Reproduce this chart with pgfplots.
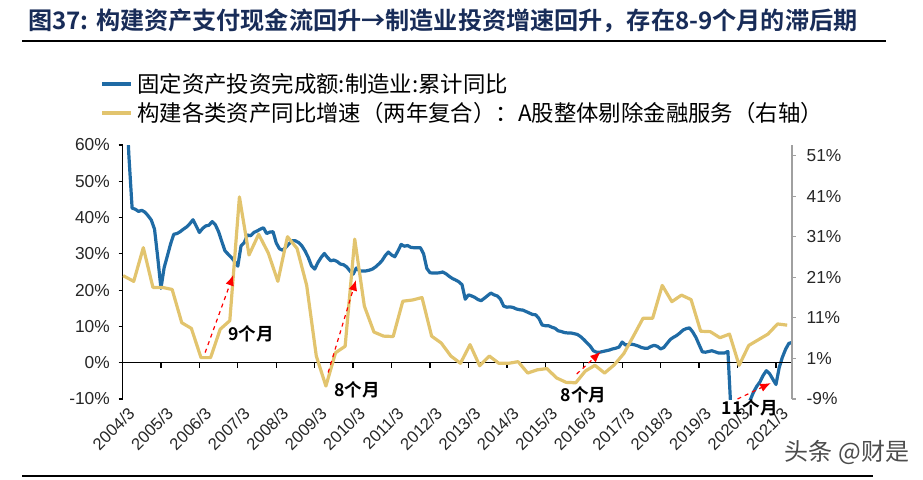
\documentclass[border=0pt]{standalone}
\usepackage{fontspec}
\setmainfont{Liberation Sans}
\newfontfamily\cjk{Noto Sans CJK SC}
\newfontfamily\cjkb{Noto Sans CJK SC Bold}
\usepackage{pgfplots}
\usepackage{pgfplotstable}
\pgfplotsset{compat=1.18}
\usetikzlibrary{arrows.meta}

\definecolor{fblue}{RGB}{31,107,165}
\definecolor{fgold}{RGB}{226,196,110}
\definecolor{tnavy}{RGB}{24,44,88}
\definecolor{raxis}{RGB}{160,160,160}

% x = months since 2004/3
\pgfplotstableread{
m v
1 75
2 57
3 42.6
4 42.3
5 41.7
6 42.0
7 41.5
8 40.5
9 39.3
10 36.8
11 29.0
12 20.5
13 26.2
14 29.4
15 32.7
16 35.4
17 35.6
18 36.1
19 36.8
20 37.4
21 38.3
22 39.4
23 37.7
24 35.9
25 37.0
26 37.7
27 37.9
28 38.9
29 38.0
30 36.1
31 33.4
32 30.8
33 29.9
34 29.0
35 27.9
36 26.6
37 32.2
38 33.1
39 35.2
40 35.0
41 35.9
42 36.3
43 36.8
44 37.2
45 35.6
46 36.0
47 36.1
48 33.0
49 31.4
50 31.0
51 31.8
52 32.8
53 33.6
54 33.6
55 33.1
56 32.2
57 30.8
58 29.0
59 26.7
60 25.8
61 27.6
62 29.0
63 30.1
64 29.0
65 28.1
66 28.3
67 27.9
68 27.2
69 27.0
70 26.4
71 25.3
72 24.4
73 26.1
74 25.3
75 25.3
76 25.3
77 25.5
78 25.8
79 26.4
80 27.2
81 28.1
82 29.5
83 30.5
84 29.7
85 29.2
86 30.8
87 32.6
88 32.1
89 32.3
90 31.8
91 31.7
92 31.7
93 31.7
94 30.0
95 26.0
96 24.8
97 24.7
98 24.7
99 24.8
100 25.0
101 24.5
102 23.8
103 23.2
104 22.8
105 22.3
106 21.5
107 17.5
108 18.7
109 18.4
110 18.0
111 17.4
112 17.1
113 17.8
114 18.5
115 19.2
116 18.7
117 18.4
118 17.5
119 15.6
120 15.3
121 15.4
122 15.2
123 14.8
124 14.6
125 14.5
126 14.1
127 13.7
128 13.3
129 13.2
130 12.2
131 10.4
132 10.2
133 10.2
134 9.8
135 9.5
136 8.8
137 8.6
138 8.3
139 8.2
140 8.2
141 8.0
142 7.8
143 7.2
144 6.4
145 5.5
146 4.6
147 3.3
148 2.9
149 2.9
150 3.1
151 3.3
152 3.5
153 3.8
154 4.0
155 4.3
156 5.7
157 4.9
158 5.0
159 5.1
160 4.9
161 4.6
162 4.2
163 4.0
164 4.0
165 4.5
166 4.8
167 4.5
168 3.8
169 4.2
170 5.3
171 6.4
172 7.0
173 7.5
174 8.2
175 9.0
176 9.4
177 9.6
178 8.5
179 7.0
180 5.0
181 3.0
182 2.9
183 3.1
184 3.3
185 3.0
186 2.7
187 2.7
188 2.7
189 3.1
191 -31.5
192 -25.2
193 -18.8
194 -14.8
195 -11.7
196 -10.2
197 -8.1
198 -6.5
199 -5.3
200 -3.5
201 -2.2
202 -3.0
204 -6.0
205 -1.4
206 1.5
207 3.7
208 5.3
209 5.6
}\mfgfai

% quarterly, right axis
\pgfplotstableread{
m v
0.2 21.4
3.5 20.0
6.5 28.3
9.5 18.5
12.5 18.5
15.5 18.0
18.5 9.8
21.5 8.4
24.5 1.2
27.5 1.2
30.5 8.2
33.5 10.3
36.5 40.8
39.5 26.5
42.5 31.6
45.5 27.0
48.5 20.0
51.5 31.0
54.5 28.1
57.5 19.0
60.5 1.6
63.5 -5.8
66.5 2.4
69.5 4.0
72.5 30.4
75.5 13.9
78.5 7.5
81.5 6.5
84.5 6.4
87.5 15.1
90.5 15.4
93.5 16.0
96.5 6.5
99.5 4.8
102.5 1.6
105.5 -0.2
108.5 4.4
111.5 -0.8
114.5 1.6
117.5 -0.2
120.5 -0.2
123.5 0.2
126.5 -2.6
129.5 -1.8
132.5 -1.5
135.5 -3.8
138.5 -4.9
141.5 -5.0
144.5 -2.1
147.5 -0.7
150.5 -2.6
153.5 -0.6
156.5 2.2
159.5 6.5
162.5 10.9
165.5 10.9
168.5 19.0
171.5 15.0
174.5 16.6
177.5 15.5
180.5 7.7
183.5 7.6
186.5 6.1
189.5 7.0
192.5 -0.7
195.5 4.2
198.5 5.6
201.5 7.0
204.5 9.5
207.5 9.2
}\assetgr

\begin{document}
\begin{tikzpicture}
\useasboundingbox (0,0) rectangle (692.25pt,-359.25pt);

\begin{axis}[
  at={(91.875pt,-299.25pt)}, anchor=south west,
  scale only axis, width=502.1pt, height=190.5pt,
  xmin=0, xmax=209, ymin=-10, ymax=60,
  axis y line*=left, axis x line*=bottom,
  x axis line style={draw=none},
  y axis line style={black, line width=1pt, -},
  x tick style={draw=none},
  y tick style={black, line width=0.8pt},
  major tick length=3pt,
  ytick align=outside,
  ytick={-10,0,10,20,30,40,50,60},
  yticklabels={-10\%,0\%,10\%,20\%,30\%,40\%,50\%,60\%},
  yticklabel style={font=\fontsize{13}{15}\selectfont, text=black!85, xshift=-3pt},
  xtick={0,12,24,36,48,60,72,84,96,108,120,132,144,156,168,180,192,204},
  xticklabels={2004/3,2005/3,2006/3,2007/3,2008/3,2009/3,2010/3,2011/3,2012/3,2013/3,2014/3,2015/3,2016/3,2017/3,2018/3,2019/3,2020/3,2021/3},
  xticklabel style={rotate=45, anchor=east, font=\fontsize{12.5}{14}\selectfont, text=black!85, xshift=2pt, yshift=-11pt},
]
\addplot[fblue, line width=2.4pt, line join=round] table[x=m, y=v] {\mfgfai};
\draw[black, line width=1.1pt] (axis cs:0,0) -- (axis cs:209,0);
\pgfplotsinvokeforeach{12,24,36,48,60,72,84,96,108,120,132,144,156,168,180,192,204}{
  \draw[black, line width=1pt] (axis cs:#1,0) -- (axis cs:#1,-1.5);
}
\coordinate (a1s) at (axis cs:25.8,2.8);
\coordinate (a1e) at (axis cs:34.6,24.2);
\coordinate (a2s) at (axis cs:64.2,-2.7);
\coordinate (a2e) at (axis cs:72.9,22.8);
\coordinate (a3s) at (axis cs:141.8,-3.1);
\coordinate (a3e) at (axis cs:149.3,3.0);
\coordinate (a4s) at (axis cs:192.0,-10.0);
\coordinate (a4e) at (axis cs:202.4,-5.6);
\coordinate (t1) at (axis cs:40.1,8.0);
\coordinate (t2) at (axis cs:73.2,-7.4);
\coordinate (t3) at (axis cs:144.0,-8.8);
\coordinate (t4) at (axis cs:195.8,-12.4);
\end{axis}

\begin{axis}[
  at={(91.875pt,-299.25pt)}, anchor=south west,
  scale only axis, width=502.1pt, height=190.5pt,
  xmin=0, xmax=209, ymin=-9, ymax=53.6,
  axis y line*=right, axis x line=none,
  y axis line style={raxis, line width=0.8pt, -},
  y tick style={raxis, line width=0.8pt},
  major tick length=3pt,
  ytick align=outside,
  ytick={-9,1,11,21,31,41,51},
  yticklabels={-9\%,1\%,11\%,21\%,31\%,41\%,51\%},
  yticklabel style={font=\fontsize{13}{15}\selectfont, text=black!85, xshift=4.5pt},
]
\addplot[fgold, line width=2.4pt, line join=round] table[x=m, y=v] {\assetgr};
\end{axis}

\begin{scope}[red, dashed, line width=0.9pt, -{Latex[length=8pt,width=6.5pt]}]
\draw (a1s) -- (a1e);
\draw (a2s) -- (a2e);
\draw (a3s) -- (a3e);
\draw (a4s) -- (a4e);
\end{scope}
\begin{scope}[every node/.style={font=\cjkb\fontsize{13.2}{15}\selectfont, inner sep=0, text=black}]
\node at (t1) {9个月};
\node at (t2) {8个月};
\node at (t3) {8个月};
\node at (t4) {11个月};
\end{scope}

\begin{scope}[x=0.75pt, y=-0.75pt]
\node[anchor=west, inner sep=0, text=tnavy, font=\cjkb\fontsize{18.1}{20}\selectfont] at (28,21)
  {图37: 构建资产支付现金流回升→制造业投资增速回升，存在8-9个月的滞后期};
\draw[black, line width=1.8pt] (22,41) -- (886,41);
\draw[fblue, line width=2.4pt] (102,84) -- (131,84);
\node[anchor=west, inner sep=0, font=\cjk\fontsize{16.8}{18}\selectfont] at (137,84)
  {固定资产投资完成额:制造业:累计同比};
\draw[fgold, line width=2.4pt] (102,113) -- (131,113);
\node[anchor=west, inner sep=0, font=\cjk\fontsize{16.8}{18}\selectfont] at (137,113)
  {构建各类资产同比增速（两年复合）：A股整体剔除金融服务（右轴）};
\node[anchor=center, inner sep=0, text=black!70, font=\cjk\fontsize{18}{19}\selectfont] at (847,452)
  {头条 @财是};
\draw[black, line width=2pt] (22,476) -- (873,476);
\end{scope}
\end{tikzpicture}
\end{document}
